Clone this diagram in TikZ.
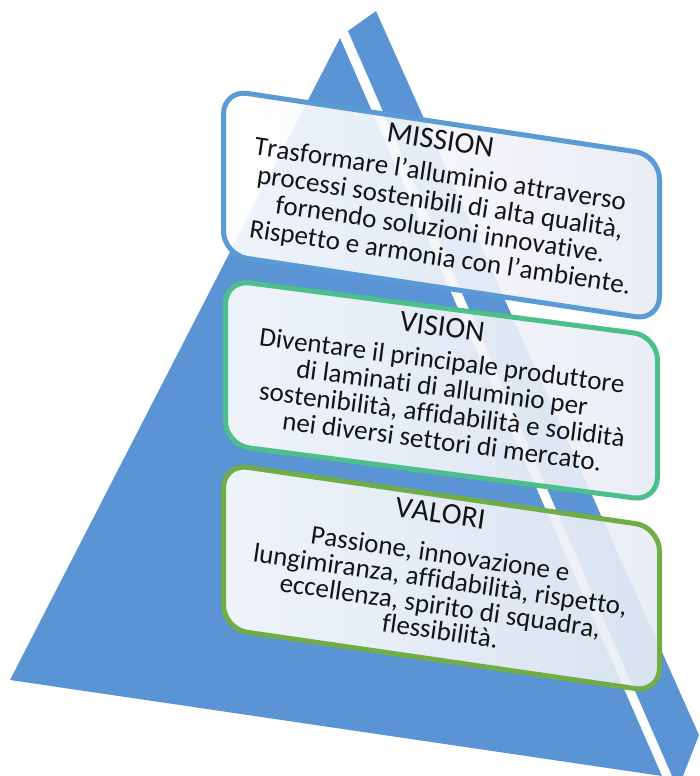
\documentclass[tikz,border=0pt]{standalone}
\usepackage{fontspec}
\setmainfont{Carlito}
\usepackage{xcolor}
\usepackage{tikz}
\usetikzlibrary{decorations.text}

\definecolor{pyrblue}{HTML}{5A94D4}
\definecolor{missionblue}{HTML}{5B9BD5}
\definecolor{visiongreen}{HTML}{4CBF8A}
\definecolor{valorigreen}{HTML}{70AD47}
\definecolor{panelfill}{HTML}{E7EBF4}

\tikzset{
  panel/.style={rectangle, rounded corners=24pt, minimum width=436pt, minimum height=165pt,
    line width=5pt, left color=white, right color=panelfill, fill opacity=0.9,
    transform shape, inner sep=0pt},
}

% one line of text along the slanted panel (baseline, size, text)
\newcommand{\tiltline}[3]{%
  \path[decorate, decoration={text along path, text align=center,
    text={|\fontsize{#2}{#2}\selectfont\color{black!92}|#3}}] (0,#1) -- (436,#1);}

\begin{document}
\begin{tikzpicture}[x=1pt, y=-1pt]
        \useasboundingbox (0,0) rectangle (699,776);

        % Pyramid faces
        \fill[pyrblue] (340,38) -- (10,680) -- (662,776) -- cycle;
        \fill[pyrblue] (348,31) -- (376,11) -- (699,735) -- (683,776) -- (672,776) -- cycle;

        % Mission
        \begin{scope}[shift={(221,87)}, yslant=-0.15]
            \node[panel, draw=missionblue, anchor=north west] (mission) at (0,0) {};
            \tiltline{30}{30}{MISSION}
            \tiltline{63}{27}{Trasformare l’alluminio attraverso}
            \tiltline{91}{27}{processi sostenibili di alta qualità,}
            \tiltline{118}{27}{fornendo soluzioni innovative.}
            \tiltline{146}{27}{Rispetto e armonia con l’ambiente.}
        \end{scope}

        % Vision
        \begin{scope}[shift={(223,277)}, yslant=-0.13]
            \node[panel, draw=visiongreen, anchor=north west, minimum width=432pt] (vision) at (0,0) {};
            \tiltline{31}{30}{VISION}
            \tiltline{64}{27}{Diventare il principale produttore}
            \tiltline{91}{27}{di laminati di alluminio per}
            \tiltline{118}{27}{sostenibilità, affidabilità e solidità}
            \tiltline{145}{27}{nei diversi settori di mercato.}
        \end{scope}

        % Valori
        \begin{scope}[shift={(221,461)}, yslant=-0.145]
            \node[panel, draw=valorigreen, anchor=north west] (valori) at (0,0) {};
            \tiltline{30}{30}{VALORI}
            \tiltline{70}{27}{Passione, innovazione e}
            \tiltline{96}{27}{lungimiranza, affidabilità, rispetto,}
            \tiltline{122}{27}{eccellenza, spirito di squadra,}
            \tiltline{147}{27}{flessibilità.}
        \end{scope}
    \end{tikzpicture}
\end{document}
